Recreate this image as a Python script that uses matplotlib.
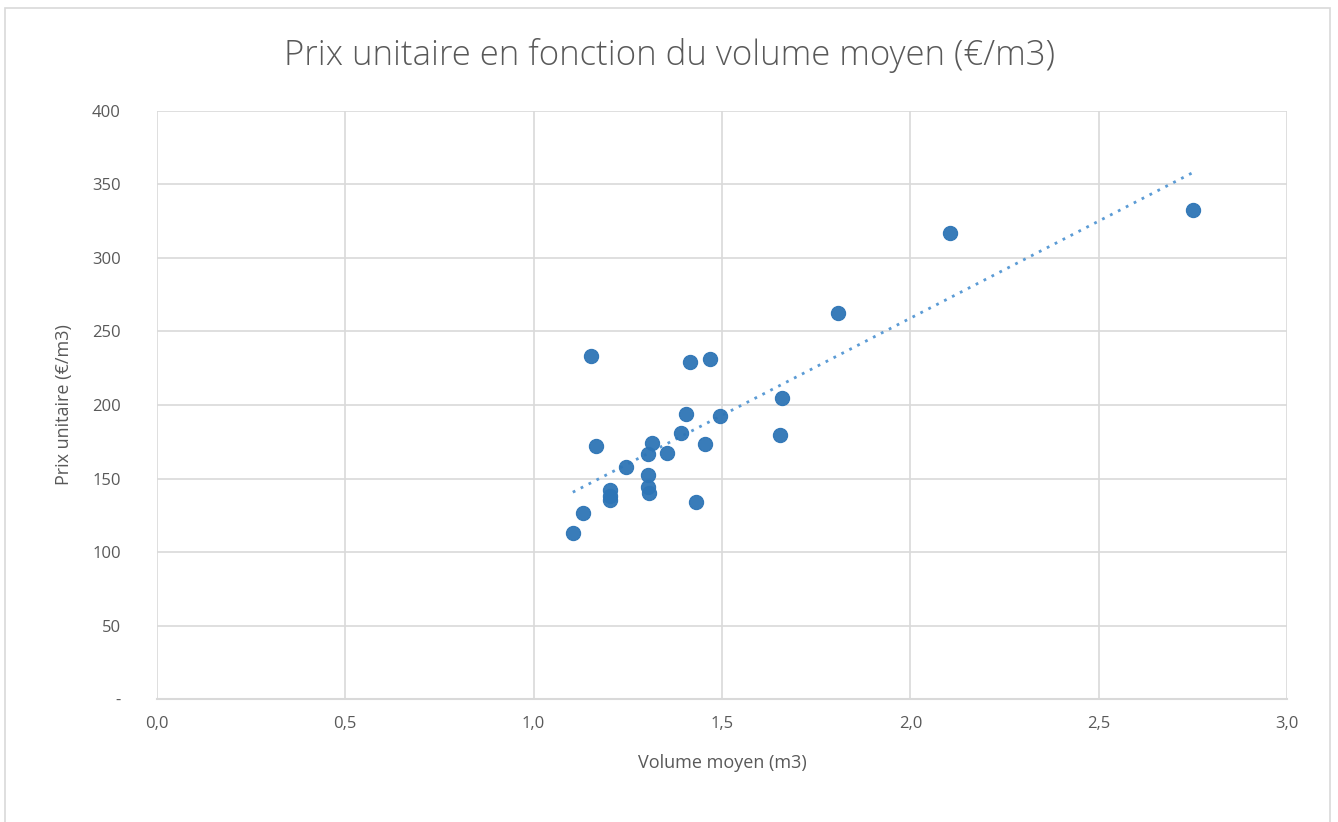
import numpy as np
import matplotlib.pyplot as plt
from matplotlib.patches import Rectangle

# volume moyen (m3) and prix unitaire (€/m3)
volume = [1.152, 1.415, 1.468, 1.660, 1.404, 1.496, 1.654, 1.165, 1.392,
          1.315, 1.303, 1.354, 1.454, 1.244, 1.303, 1.203, 1.203, 1.203,
          1.303, 1.306, 1.431, 1.130, 1.104, 1.808, 2.105, 2.750]
prix = [233.5, 229.5, 231.3, 205.0, 193.7, 192.5, 179.4, 172.3, 180.7,
        173.9, 166.5, 167.6, 173.7, 157.8, 152.6, 142.2, 138.3, 135.5,
        144.4, 140.1, 133.8, 126.7, 113.1, 262.6, 317.0, 332.7]

x_ticks = [0.0, 0.5, 1.0, 1.5, 2.0, 2.5, 3.0]
y_ticks = [0, 50, 100, 150, 200, 250, 300, 350, 400]

TEXT = "#595959"
GRID = "#d9d9d9"
BLUE = "#2e75b6"

plt.rcParams["font.family"] = ["Open Sans", "DejaVu Sans"]

fig = plt.figure(figsize=(13.38, 8.22), dpi=100)
fig.patches.append(Rectangle((0.004, -0.01), 0.99, 1.0, transform=fig.transFigure,
                             fill=False, edgecolor=GRID, linewidth=1.2))
ax = fig.add_axes([0.1173, 0.1496, 0.8446, 0.7154])

ax.scatter(volume, prix, s=105, color=BLUE, edgecolor=BLUE, linewidth=0.8,
           alpha=0.95, zorder=3)

# linear trendline
slope, intercept = np.polyfit(volume, prix, 1)
xs = np.array([min(volume), max(volume)])
ax.plot(xs, slope * xs + intercept, linestyle=(0, (1, 2.2)), color="#5b9bd5",
        linewidth=2, zorder=2)

ax.set_xlim(0, 3)
ax.set_ylim(0, 400)
ax.set_xticks(x_ticks)
ax.set_xticklabels([f"{v:.1f}".replace(".", ",") for v in x_ticks])
ax.set_yticks(y_ticks)
ax.set_yticklabels(["-" if v == 0 else str(v) for v in y_ticks])
ax.tick_params(length=0, labelsize=12, colors=TEXT, pad=12)
ax.tick_params(axis="y", pad=26)
for lab in ax.get_yticklabels():
    lab.set_horizontalalignment("right")

ax.grid(True, color=GRID, linewidth=1.2)
ax.set_axisbelow(True)
for side in ("top", "right", "left"):
    ax.spines[side].set_visible(False)
ax.spines["bottom"].set_color(GRID)
ax.spines["bottom"].set_linewidth(1.5)

ax.set_xlabel("Volume moyen (m3)", fontsize=13, color=TEXT, labelpad=16)
ax.set_ylabel("Prix unitaire (€/m3)", fontsize=13, color=TEXT, labelpad=14)
fig.text(0.5, 0.932, "Prix unitaire en fonction du volume moyen (€/m3)",
         ha="center", va="center", fontsize=25, color=TEXT, fontweight="light")

fig.savefig("out.png", dpi=100)
